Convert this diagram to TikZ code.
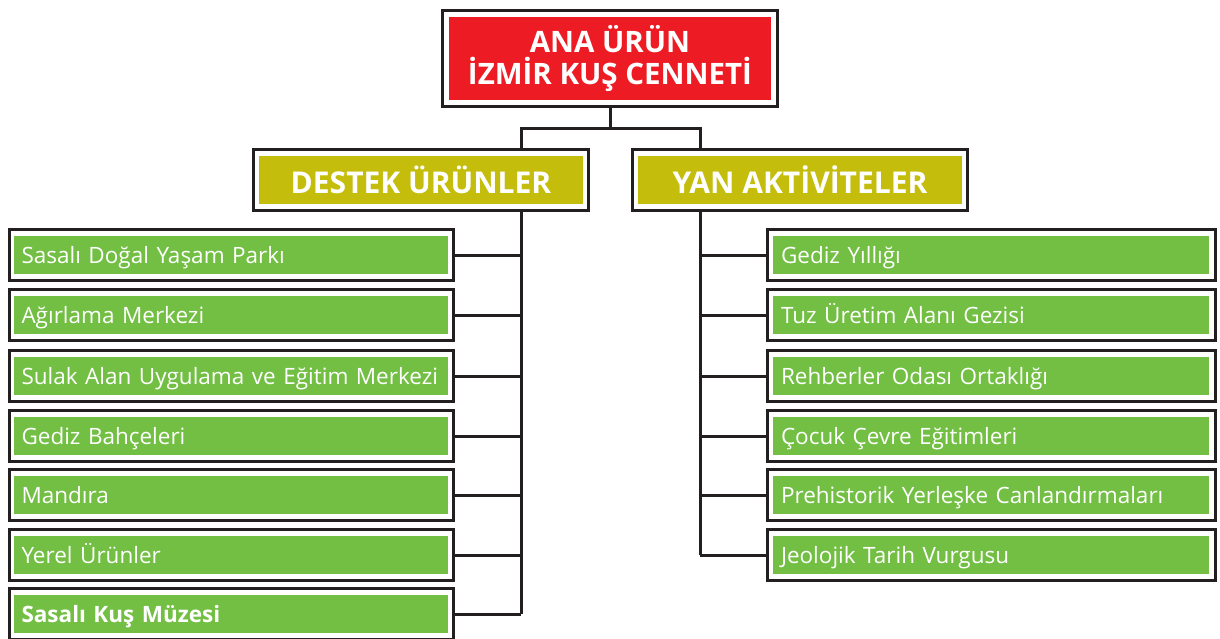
\documentclass[tikz,border=0pt]{standalone}
\usepackage{fontspec}
\setmainfont{Open Sans}
\definecolor{lineC}{HTML}{231F20}
\definecolor{redC}{HTML}{ED1C24}
\definecolor{oliveC}{HTML}{C4BD0B}
\definecolor{greenC}{HTML}{72BF44}
\tikzset{
  outbox/.style={draw=lineC, line width=3pt, fill=white, inner sep=0pt},
  inbox/.style={inner sep=0pt, text=white},
  leafin/.style={inbox, fill=greenC, minimum width=434pt, minimum height=38pt, text width=418pt, text height=20pt, text depth=3pt, align=left, font=\fontsize{22.5}{26}\selectfont},
  headin/.style={inbox, fill=oliveC, minimum width=324pt, minimum height=48pt, text height=27pt, text depth=0pt, font=\bfseries\fontsize{30}{34}\selectfont},
  conn/.style={draw=lineC, line width=3pt}
}
\begin{document}
\begin{tikzpicture}[x=1pt,y=-1pt]
\useasboundingbox (0,0) rectangle (1220,638);
\clip (0,0) rectangle (1220,638);
% top
\node[outbox, minimum width=335pt, minimum height=96pt] (top) at (610,58.5) {};
\node[inbox, fill=redC, minimum width=322pt, minimum height=83pt, align=center, font=\bfseries\fontsize{29.5}{32.5}\selectfont] (topin) at (610,58.5) {ANA ÜRÜN\\İZMİR KUŞ CENNETİ};
% headers
\node[outbox, minimum width=335pt, minimum height=61pt] (des) at (421,180) {};
\node[headin] (desin) at (421,180) {DESTEK ÜRÜNLER};
\node[outbox, minimum width=335pt, minimum height=61pt] (yan) at (800,180) {};
\node[headin] (yanin) at (800,180) {YAN AKTİVİTELER};
% junctions
\coordinate (jM) at (610,128);
\coordinate (jL) at (521,128);
\coordinate (jR) at (700,128);
\draw[conn] (top.south) -- (jM);
\draw[conn] (des.north -| jL) -- (jL) -- (jR) -- (yan.north -| jR);
% left leaves
\foreach \i/\y/\t in {1/255/{Sasalı Doğal Yaşam Parkı}, 2/315/{Ağırlama Merkezi}, 3/376/{Sulak Alan Uygulama ve Eğitim Merkezi}, 4/436/{Gediz Bahçeleri}, 5/495/{Mandıra}, 6/555/{Yerel Ürünler}, 7/614/{\bfseries Sasalı Kuş Müzesi}}{
  \node[outbox, minimum width=444pt, minimum height=51pt] (L\i) at (231.5,\y) {};
  \node[leafin] (Lin\i) at (230.5,\y) {\t};
}
% right leaves
\foreach \i/\y/\t in {1/255/{Gediz Yıllığı}, 2/315/{Tuz Üretim Alanı Gezisi}, 3/376/{Rehberler Odası Ortaklığı}, 4/436/{Çocuk Çevre Eğitimleri}, 5/495/{Prehistorik Yerleşke Canlandırmaları}, 6/555/{Jeolojik Tarih Vurgusu}}{
  \node[outbox, minimum width=448pt, minimum height=51pt] (R\i) at (991,\y) {};
  \node[leafin, minimum width=436pt, text width=420pt] (Rin\i) at (991,\y) {\t};
}
% trunks
\coordinate (tL) at (521,614);
\coordinate (tR) at (700,555);
\draw[conn] (des.south -| tL) -- (tL);
\draw[conn] (yan.south -| tR) -- (tR);
\foreach \i in {1,...,7}{ \draw[conn] (L\i.east) -- (L\i.east -| tL); }
\foreach \i in {1,...,6}{ \draw[conn] (R\i.west) -- (R\i.west -| tR); }
\end{tikzpicture}
\end{document}
